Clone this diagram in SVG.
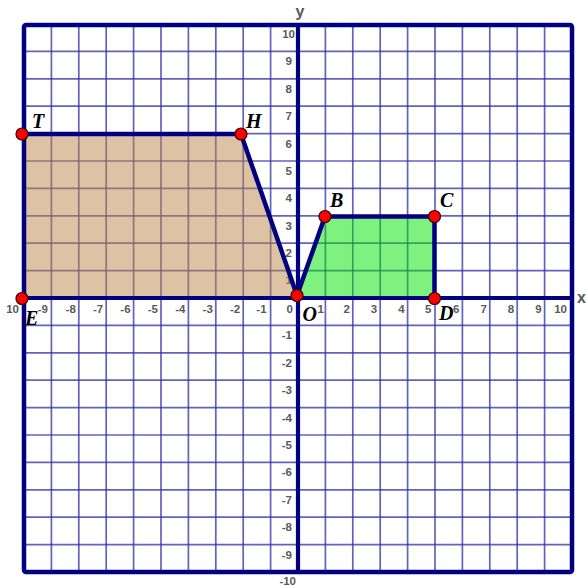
<svg xmlns="http://www.w3.org/2000/svg" width="586" height="587" viewBox="0 0 586 587">
<style>
.grid line{stroke:#3030a4;stroke-width:1.7;opacity:0.75}
.tick{font-family:"Liberation Sans",Arial,sans-serif;font-weight:bold;font-size:11.5px;fill:#5a5a5a;text-anchor:end}
.axl{font-family:"Liberation Sans",Arial,sans-serif;font-weight:bold;font-size:16px;fill:#5a5a5a}
.frame{fill:none;stroke:#000080;stroke-width:4.5;stroke-linejoin:round}
.axis{stroke:#000080;stroke-width:4.2}
.edge{fill:none;stroke:#000080;stroke-width:4.5;stroke-linejoin:round;stroke-linecap:round}
.pt{fill:#ff0000;stroke:#300000;stroke-width:1.2}
.lbl{font-family:"Liberation Serif","Times New Roman",serif;font-weight:bold;font-style:italic;font-size:20px;fill:#000}
</style>
<rect width="586" height="587" fill="#ffffff"/>
<g id="grid" class="grid">
<line x1="51.4" y1="24" x2="51.4" y2="572"/><line x1="78.8" y1="24" x2="78.8" y2="572"/><line x1="106.2" y1="24" x2="106.2" y2="572"/><line x1="133.6" y1="24" x2="133.6" y2="572"/><line x1="161" y1="24" x2="161" y2="572"/><line x1="188.4" y1="24" x2="188.4" y2="572"/><line x1="215.8" y1="24" x2="215.8" y2="572"/><line x1="243.2" y1="24" x2="243.2" y2="572"/><line x1="270.6" y1="24" x2="270.6" y2="572"/>
<line x1="325.4" y1="24" x2="325.4" y2="572"/><line x1="352.8" y1="24" x2="352.8" y2="572"/><line x1="380.2" y1="24" x2="380.2" y2="572"/><line x1="407.6" y1="24" x2="407.6" y2="572"/><line x1="435" y1="24" x2="435" y2="572"/><line x1="462.4" y1="24" x2="462.4" y2="572"/><line x1="489.8" y1="24" x2="489.8" y2="572"/><line x1="517.2" y1="24" x2="517.2" y2="572"/><line x1="544.6" y1="24" x2="544.6" y2="572"/>
<line x1="24" y1="51.4" x2="572" y2="51.4"/><line x1="24" y1="78.8" x2="572" y2="78.8"/><line x1="24" y1="106.2" x2="572" y2="106.2"/><line x1="24" y1="133.6" x2="572" y2="133.6"/><line x1="24" y1="161" x2="572" y2="161"/><line x1="24" y1="188.4" x2="572" y2="188.4"/><line x1="24" y1="215.8" x2="572" y2="215.8"/><line x1="24" y1="243.2" x2="572" y2="243.2"/><line x1="24" y1="270.6" x2="572" y2="270.6"/>
<line x1="24" y1="325.4" x2="572" y2="325.4"/><line x1="24" y1="352.8" x2="572" y2="352.8"/><line x1="24" y1="380.2" x2="572" y2="380.2"/><line x1="24" y1="407.6" x2="572" y2="407.6"/><line x1="24" y1="435" x2="572" y2="435"/><line x1="24" y1="462.4" x2="572" y2="462.4"/><line x1="24" y1="489.8" x2="572" y2="489.8"/><line x1="24" y1="517.2" x2="572" y2="517.2"/><line x1="24" y1="544.6" x2="572" y2="544.6"/>
</g>
<g id="x-ticks" class="tick">
<text x="19" y="313">10</text><text x="48" y="313">-9</text><text x="75.8" y="313">-8</text><text x="103.2" y="313">-7</text><text x="130.6" y="313">-6</text><text x="158" y="313">-5</text><text x="185.4" y="313">-4</text><text x="212.8" y="313">-3</text><text x="240.2" y="313">-2</text><text x="266.6" y="313">-1</text><text x="293" y="313">0</text>
<text x="324" y="313">1</text><text x="349.8" y="313">2</text><text x="377.2" y="313">3</text><text x="404.6" y="313">4</text><text x="431.5" y="313">5</text><text x="459.4" y="313">6</text><text x="486.8" y="313">7</text><text x="514.2" y="313">8</text><text x="541.6" y="313">9</text><text x="567" y="313">10</text>
</g>
<g id="y-ticks" class="tick">
<text x="295" y="38">10</text><text x="292" y="65.4">9</text><text x="292" y="92.8">8</text><text x="292" y="120.2">7</text><text x="292" y="147.6">6</text><text x="292" y="175">5</text><text x="292" y="202.4">4</text><text x="292" y="229.8">3</text><text x="292" y="257.2">2</text><text x="292" y="284">1</text>
<text x="292" y="339">-1</text><text x="292" y="366.8">-2</text><text x="292" y="394.2">-3</text><text x="292" y="421.6">-4</text><text x="292" y="449">-5</text><text x="292" y="476.4">-6</text><text x="292" y="503.8">-7</text><text x="292" y="531.2">-8</text><text x="292" y="558.6">-9</text><text x="296" y="585">-10</text>
</g>
<text class="axl" x="577" y="303">x</text>
<text class="axl" x="300" y="17" text-anchor="middle">y</text>
<g id="trapezoid-THOE">
<polygon points="22,134 241,134 297,295.5 297,298 22,298" fill="#bc8649" fill-opacity="0.5"/>
</g>
<g id="trapezoid-OBCD">
<polygon points="297,295.5 325,216.5 434.5,216.5 434.5,298 297,298" fill="#00e400" fill-opacity="0.5"/>
</g>
<g id="axes">
<line class="axis" x1="24" y1="298" x2="572" y2="298"/>
<line class="axis" x1="298" y1="24" x2="298" y2="572"/>
<rect class="frame" x="24" y="25" width="548" height="547" rx="2"/>
</g>
<g id="connectors">
<polyline class="edge" points="22,134 241,134 297,295.5 325,216.5 434.5,216.5 434.5,298.5"/>
</g>
<g id="T"><circle class="pt" cx="22" cy="134" r="6"/><text class="lbl" x="32" y="128">T</text></g>
<g id="H"><circle class="pt" cx="241" cy="134" r="6"/><text class="lbl" x="246" y="128">H</text></g>
<g id="B"><circle class="pt" cx="325" cy="216.5" r="6"/><text class="lbl" x="330" y="207">B</text></g>
<g id="C"><circle class="pt" cx="434.5" cy="216.5" r="6"/><text class="lbl" x="440" y="207">C</text></g>
<g id="O"><circle class="pt" cx="297" cy="295.5" r="6"/><text class="lbl" x="302.5" y="321">O</text></g>
<g id="D"><circle class="pt" cx="434.5" cy="298.5" r="6"/><text class="lbl" x="439" y="320">D</text></g>
<g id="E"><circle class="pt" cx="22" cy="298.5" r="6"/><text class="lbl" x="25" y="325">E</text></g>
</svg>
